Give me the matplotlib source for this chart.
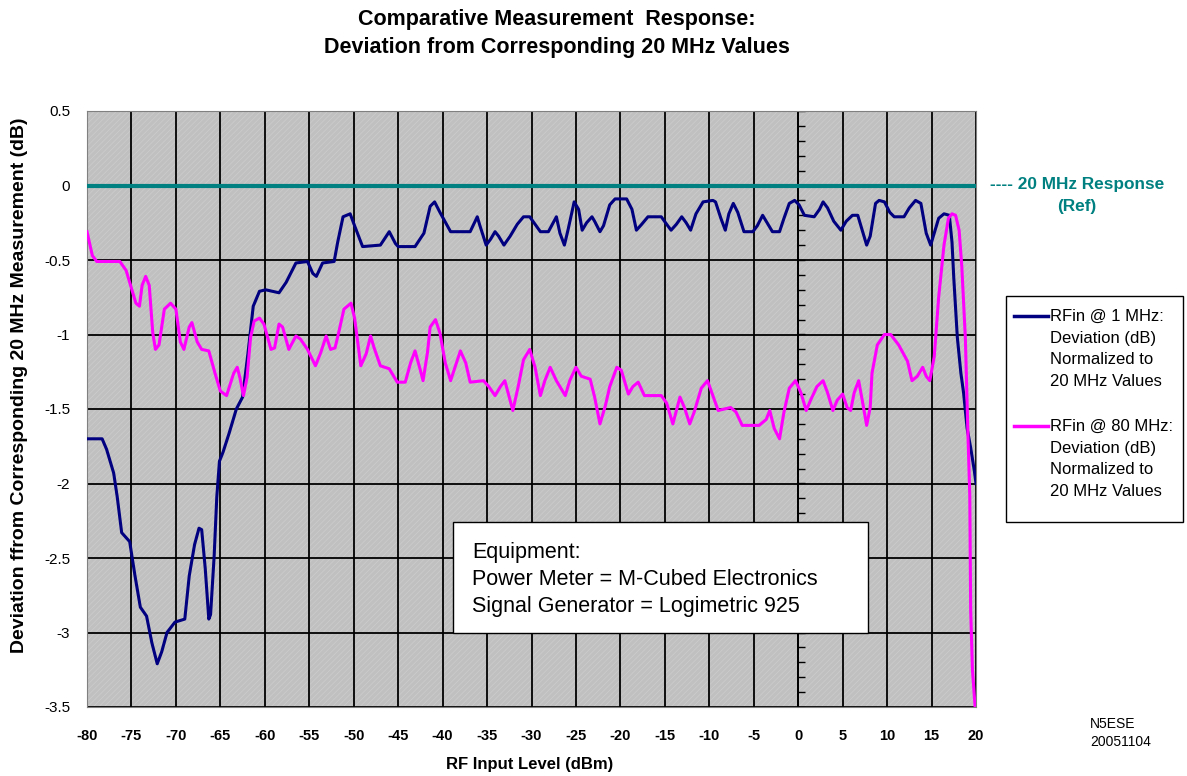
import numpy as np
import matplotlib.pyplot as plt
from matplotlib.patches import Rectangle
from matplotlib.lines import Line2D

plt.rcParams['font.family'] = ['Liberation Sans', 'DejaVu Sans']
plt.rcParams['axes.unicode_minus'] = False
plt.rcParams['hatch.linewidth'] = 0.6
plt.rcParams['hatch.color'] = '#cbcbcb'

# RF input level (dBm) and deviation (dB)
rf_1mhz = [-80, -78.3, -77.8, -77, -76.6, -76.1, -75.2, -74.6, -74, -73.3, -72.7, -72.1,
           -71.6, -71, -70.1, -69, -68.5, -67.9, -67.4, -67.1, -66.7, -66.3, -66.1, -65.7,
           -65.4, -65.1, -64.7, -64, -63.2, -62.5, -61.9, -61.3, -60.6, -59.9, -58.4, -57.6,
           -56.5, -55.2, -54.6, -54.2, -53.5, -52.2, -51.8, -51.2, -50.4, -49.9, -49, -47,
           -46, -45.3, -45, -43.1, -42.1, -41.4, -40.9, -40.3, -39.1, -36.9, -36.1, -35.8,
           -35.1, -34.6, -34.1, -33.7, -33.1, -32.4, -31.6, -30.9, -30.2, -29, -28.1, -27.2,
           -26.8, -26.3, -25.9, -25.2, -24.7, -24.3, -23.8, -23.2, -22.9, -22.3, -21.9, -21.2,
           -20.6, -19.3, -18.7, -18.2, -17.6, -16.9, -15.4, -14.8, -14.3, -13.7, -13.1, -12.6,
           -12.1, -11.5, -10.7, -9.6, -9.3, -8.7, -8.2, -7.8, -7.3, -6.8, -6.1, -5.1, -4.6,
           -4, -3.4, -2.9, -2.1, -1.6, -1, -0.4, 0.1, 0.7, 1.8, 2.4, 2.8, 3.3, 4, 4.8, 5.4,
           6.1, 6.7, 7.2, 7.7, 8.1, 8.7, 9.1, 9.7, 10.3, 10.8, 11.9, 12.5, 13.2, 13.8, 14.4,
           14.9, 15.3, 15.8, 16.4, 17, 17.3, 17.5, 17.9, 18.3, 18.6, 19, 19.4, 19.8, 20]
dev_1mhz = [-1.70, -1.70, -1.77, -1.93, -2.09, -2.33, -2.39, -2.62, -2.83, -2.89, -3.07, -3.21,
            -3.13, -3.00, -2.93, -2.91, -2.62, -2.41, -2.30, -2.31, -2.57, -2.91, -2.88, -2.49,
            -2.09, -1.85, -1.79, -1.66, -1.50, -1.42, -1.13, -0.81, -0.71, -0.70, -0.72, -0.65,
            -0.52, -0.51, -0.59, -0.61, -0.52, -0.51, -0.38, -0.21, -0.19, -0.27, -0.41, -0.40,
            -0.31, -0.39, -0.41, -0.41, -0.32, -0.14, -0.11, -0.18, -0.31, -0.31, -0.21, -0.27,
            -0.40, -0.36, -0.31, -0.34, -0.40, -0.34, -0.26, -0.21, -0.21, -0.31, -0.31, -0.21,
            -0.32, -0.40, -0.30, -0.11, -0.16, -0.30, -0.25, -0.21, -0.24, -0.31, -0.27, -0.13,
            -0.09, -0.09, -0.16, -0.30, -0.26, -0.21, -0.21, -0.26, -0.30, -0.26, -0.21, -0.25,
            -0.30, -0.19, -0.11, -0.10, -0.11, -0.22, -0.30, -0.19, -0.12, -0.18, -0.31, -0.31, -0.27,
            -0.20, -0.26, -0.31, -0.31, -0.22, -0.12, -0.10, -0.13, -0.20, -0.21, -0.16, -0.11, -0.15, -0.24, -0.30, -0.24,
            -0.20, -0.20, -0.30, -0.40, -0.34, -0.12, -0.10, -0.11, -0.18, -0.21, -0.21, -0.15, -0.10, -0.12, -0.32,
            -0.40, -0.32, -0.22, -0.19, -0.20, -0.38, -0.62, -1.02, -1.26, -1.39, -1.63, -1.76, -1.91, -2.00]

rf_80mhz = [-80, -79.4, -78.9, -76.3, -75.6, -75.1, -74.5, -74.1, -73.8, -73.4, -73, -72.6,
            -72.3, -71.9, -71.3, -70.6, -70, -69.5, -69.1, -68.5, -68.2, -67.6, -67.1, -66.3,
            -65.6, -65, -64.3, -63.5, -63.1, -62.8, -62.4, -62, -61.6, -61.2, -60.6, -60.1,
            -59.3, -58.9, -58.4, -58, -57.3, -56.5, -56, -55.2, -54.3, -53.7, -53.1, -52.6,
            -52.1, -51.7, -51.1, -50.3, -49.9, -49.2, -48.6, -48.1, -47.7, -47, -46, -45.1,
            -44.2, -43.6, -43.1, -42.5, -42.2, -41.7, -41.4, -40.8, -40.3, -39.7, -39.1, -38.6,
            -38, -37.4, -36.9, -35.4, -34.8, -34.1, -33.5, -33, -32.6, -32.1, -31.5, -30.9,
            -30.2, -29.6, -29, -28.5, -27.9, -27.2, -26.2, -25.7, -25, -24.4, -23.4, -22.9,
            -22.3, -21.7, -21.2, -20.4, -19.9, -19.1, -18.6, -18, -17.3, -15.4, -14.8, -14.1,
            -13.3, -12.8, -12.2, -11.7, -10.9, -10.2, -9.6, -9, -7.6, -7, -6.3, -4.4, -3.6,
            -3.2, -2.7, -2.1, -1.6, -1, -0.3, 0.3, 0.9, 1.4, 2.1, 2.8, 3.3, 3.9, 4.4, 5, 5.5,
            5.9, 6.3, 6.8, 7.2, 7.7, 8.1, 8.3, 8.9, 9.7, 10.4, 11.3, 12.3, 12.8, 13.4, 14,
            14.4, 14.8, 15.3, 15.8, 16.4, 16.9, 17.3, 17.7, 18.1, 18.4, 18.8, 19.1, 19.3, 19.4,
            19.6, 19.9]
dev_80mhz = [-0.31, -0.47, -0.51, -0.51, -0.57, -0.67, -0.79, -0.81, -0.67, -0.61, -0.67, -0.99,
             -1.10, -1.07, -0.83, -0.79, -0.83, -1.05, -1.10, -0.95, -0.92, -1.05, -1.10, -1.11,
             -1.26, -1.38, -1.41, -1.26, -1.22, -1.29, -1.41, -1.29, -1.02, -0.91, -0.89, -0.93,
             -1.10, -1.09, -0.93, -0.95, -1.10, -1.01, -1.03, -1.10, -1.21, -1.12, -1.01, -1.10,
             -1.09, -0.99, -0.83, -0.79, -0.89, -1.21, -1.13, -1.01, -1.09, -1.21, -1.23, -1.32,
             -1.32, -1.19, -1.11, -1.24, -1.31, -1.12, -0.95, -0.90, -0.99, -1.19, -1.31, -1.22,
             -1.11, -1.19, -1.32, -1.31, -1.35, -1.41, -1.35, -1.31, -1.40, -1.51, -1.35, -1.17,
             -1.10, -1.22, -1.41, -1.31, -1.22, -1.31, -1.41, -1.31, -1.22, -1.28, -1.30, -1.42,
             -1.60, -1.48, -1.35, -1.22, -1.24, -1.40, -1.35, -1.32, -1.41, -1.41, -1.46, -1.60,
             -1.42, -1.49, -1.60, -1.52, -1.36, -1.31, -1.41, -1.51, -1.49, -1.52, -1.61, -1.61, -1.57,
             -1.51, -1.63, -1.70, -1.52, -1.36, -1.31, -1.39, -1.51, -1.44, -1.35, -1.31, -1.39, -1.51, -1.44, -1.40, -1.49,
             -1.51, -1.39, -1.31, -1.44, -1.61, -1.49, -1.26, -1.07, -1.00, -1.00, -1.07, -1.18, -1.31, -1.28, -1.22,
             -1.28, -1.31, -1.15, -0.75, -0.40, -0.22, -0.19, -0.20, -0.30, -0.54, -1.02, -1.68, -2.08, -2.85,
             -3.25, -3.50]

ref_x = [-80, 20]
ref_y = [0, 0]

x_ticks = list(range(-80, 25, 5))
y_ticks = [0.5, 0, -0.5, -1, -1.5, -2, -2.5, -3, -3.5]
y_labels = ['0.5', '0', '-0.5', '-1', '-1.5', '-2', '-2.5', '-3', '-3.5']

W, H = 1187, 776
fig = plt.figure(figsize=(W / 100, H / 100), dpi=100)
ax = fig.add_axes([87 / W, 1 - 707 / H, (976 - 87) / W, (707 - 111) / H])

ax.set_facecolor('#c0c0c0')
ax.add_patch(Rectangle((0, 0), 1, 1, transform=ax.transAxes, facecolor='none',
                       hatch='//////', linewidth=0, zorder=0))

ax.set_xlim(-80, 20)
ax.set_ylim(-3.5, 0.5)
ax.set_xticks(x_ticks)
ax.set_yticks(y_ticks)
ax.set_yticklabels(y_labels)
ax.grid(True, color='black', linewidth=1.3)
ax.set_axisbelow(True)
ax.tick_params(axis='y', length=0, pad=12)
ax.tick_params(axis='x', length=0, pad=16)
for lbl in ax.get_xticklabels():
    lbl.set_fontsize(10.5)
    lbl.set_fontweight('bold')
for lbl in ax.get_yticklabels():
    lbl.set_fontsize(11)
for s in ax.spines.values():
    s.set_color('#808080')

# value axis crossing at 0 dBm with minor ticks
ax.axvline(0, color='black', linewidth=1.3, zorder=2)
minor_y = np.arange(-3.5, 0.51, 0.1)
ax.plot(np.zeros(len(minor_y)), minor_y, linestyle='none', marker=1, markersize=5,
        color='black', markeredgewidth=1, zorder=2)

ax.plot(ref_x, ref_y, color='#008080', linewidth=3, zorder=3)
ax.plot(rf_1mhz, dev_1mhz, color='#000080', linewidth=2.2, zorder=4)
ax.plot(rf_80mhz, dev_80mhz, color='#ff00ff', linewidth=2.2, zorder=4)

fig.text(530 / W, 1 - 765 / H, 'RF Input Level (dBm)', fontsize=12, fontweight='bold',
         ha='center', va='center')
fig.text(20 / W, 1 - 385 / H, 'Deviation ffrom Corresponding 20 MHz Measurement (dB)',
         fontsize=14, fontweight='bold', rotation=90, ha='center', va='center')

fig.text(557 / W, 1 - 20 / H, 'Comparative Measurement  Response:', ha='center', va='center',
         fontsize=15.5, fontweight='bold')
fig.text(557 / W, 1 - 47 / H, 'Deviation from Corresponding 20 MHz Values', ha='center',
         va='center', fontsize=15.5, fontweight='bold')

# equipment box
fig.add_artist(Rectangle((453 / W, 1 - 633 / H), 415 / W, 111 / H, transform=fig.transFigure,
                         facecolor='white', edgecolor='black', linewidth=1, zorder=6))
fig.text(472 / W, 1 - 542 / H, 'Equipment:\nPower Meter = M-Cubed Electronics\nSignal Generator = Logimetric 925',
         fontsize=15.5, ha='left', va='top', linespacing=1.36, zorder=7)

# reference label
fig.text(1077 / W, 1 - 184 / H, '---- 20 MHz Response', color='#008080', fontsize=12.4,
         fontweight='bold', ha='center', va='center')
fig.text(1077 / W, 1 - 207 / H, '(Ref)', color='#008080', fontsize=12.4,
         fontweight='bold', ha='center', va='center')

# legend drawn by hand so the handle sits on the first text line
fig.add_artist(Rectangle((1006 / W, 1 - 522 / H), 177 / W, 226 / H,
                         transform=fig.transFigure, facecolor='white', edgecolor='black', linewidth=1))
legend_items = [('#000080', 'RFin @ 1 MHz:\nDeviation (dB)\nNormalized to\n20 MHz Values', 316),
                ('#ff00ff', 'RFin @ 80 MHz:\nDeviation (dB)\nNormalized to\n20 MHz Values', 426)]
for color, label, ypx in legend_items:
    yf = 1 - ypx / H
    fig.add_artist(Line2D([1014 / W, 1048 / W], [yf, yf], color=color, linewidth=2.5,
                          transform=fig.transFigure))
    fig.text(1050 / W, yf + 7 / H, label, fontsize=12, ha='left', va='top', linespacing=1.55)

fig.text(1090 / W, 1 - 733 / H, 'N5ESE\n20051104', fontsize=10, ha='left', va='center',
         linespacing=1.4)

fig.savefig('out.png', dpi=100)
